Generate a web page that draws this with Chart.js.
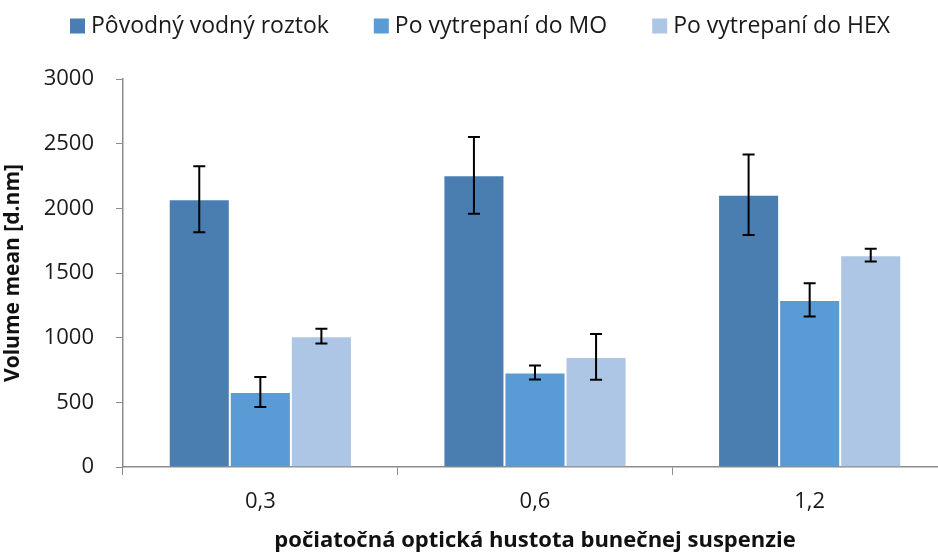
<!DOCTYPE html>
<html>
<head>
<meta charset="utf-8">
<script src="https://cdn.jsdelivr.net/npm/chart.js@4.4.1/dist/chart.umd.min.js"></script>
<style>
  html, body { margin: 0; padding: 0; background: #fff; overflow: hidden; }
  #wrap { width: 950px; height: 554px; position: relative; }
</style>
</head>
<body>
<div id="wrap"><canvas id="c"></canvas></div>
<script>
const categories = ['0,3', '0,6', '1,2'];
const seriesNames = ['Pôvodný vodný roztok', 'Po vytrepaní do MO', 'Po vytrepaní do HEX'];
const original = [2070, 2255, 2105];
const originalErr = [255, 297, 311];
const afterMO = [580, 730, 1292];
const afterMOErr = [116, 54, 129];
const afterHEX = [1011, 851, 1638];
const afterHEXErr = [57, 177, 50];
const yTicks = [0, 500, 1000, 1500, 2000, 2500, 3000];
const colors = ['#4A7EB0', '#5B9BD5', '#ADC6E5'];
const FONT = '"Open Sans"';
const FS = 22;

const errors = [originalErr, afterMOErr, afterHEXErr];

const errorBarPlugin = {
  id: 'errorBars',
  afterDatasetsDraw(chart) {
    const ctx = chart.ctx;
    const y = chart.scales.y;
    ctx.save();
    ctx.strokeStyle = '#000';
    ctx.lineWidth = 2;
    chart.data.datasets.forEach((ds, di) => {
      const meta = chart.getDatasetMeta(di);
      meta.data.forEach((bar, i) => {
        const v = ds.data[i], e = errors[di][i];
        const yt = y.getPixelForValue(v + e), yb = y.getPixelForValue(v - e);
        const x = bar.x, cap = 6;
        ctx.beginPath();
        ctx.moveTo(x, yt); ctx.lineTo(x, yb);
        ctx.moveTo(x - cap, yt); ctx.lineTo(x + cap, yt);
        ctx.moveTo(x - cap, yb); ctx.lineTo(x + cap, yb);
        ctx.stroke();
      });
    });
    ctx.restore();
  }
};

const legendPlugin = {
  id: 'customLegend',
  afterDraw(chart) {
    const ctx = chart.ctx;
    ctx.save();
    ctx.font = '23px ' + FONT;
    ctx.textBaseline = 'middle';
    const box = 15, gapText = 6, gapItem = 45;
    const widths = seriesNames.map(n => ctx.measureText(n).width);
    const total = widths.reduce((a, w) => a + box + gapText + w, 0) + gapItem * (seriesNames.length - 1);
    let x = 480 - total / 2;
    const yc = 26;
    seriesNames.forEach((n, i) => {
      ctx.fillStyle = colors[i];
      ctx.fillRect(x, yc - box / 2, box, box);
      ctx.fillStyle = '#1a1a1a';
      ctx.fillText(n, x + box + gapText, yc);
      x += box + gapText + widths[i] + gapItem;
    });
    ctx.restore();
  }
};

const datasets = [original, afterMO, afterHEX].map((d, i) => ({
  label: seriesNames[i],
  data: d,
  backgroundColor: colors[i],
  borderColor: 'rgba(255,255,255,0.35)',
  borderWidth: 1,
  categoryPercentage: 0.667,
  barPercentage: 1.0
}));

new Chart(document.getElementById('c'), {
  type: 'bar',
  data: { labels: categories, datasets },
  options: {
    responsive: true,
    maintainAspectRatio: false,
    animation: false,
    layout: { padding: { top: 79, right: 3, left: 0, bottom: 0 } },
    plugins: { legend: { display: false }, tooltip: { enabled: false } },
    scales: {
      x: {
        grid: { display: true, drawOnChartArea: false, offset: true, tickLength: 8, color: '#8c8c8c', lineWidth: 1 },
        border: { display: true, color: '#8c8c8c', width: 1.5 },
        ticks: { color: '#1a1a1a', font: { family: FONT, size: FS }, padding: 14 },
        title: { display: true, text: 'počiatočná optická hustota bunečnej suspenzie', color: '#111', font: { family: FONT, size: 22, weight: 'bold' }, padding: { top: 0, bottom: 0 } },
        afterFit(s) { s.height = 87; }
      },
      y: {
        min: 0, max: 3000,
        afterBuildTicks(s) { s.ticks = yTicks.map(v => ({ value: v })); },
        grid: { display: true, drawOnChartArea: false, tickLength: 7, color: '#8c8c8c', lineWidth: 1 },
        border: { display: true, color: '#8c8c8c', width: 1.5 },
        ticks: { color: '#1a1a1a', font: { family: FONT, size: FS }, padding: 22, callback: v => String(v) },
        title: { display: true, text: 'Volume mean [d.nm]', color: '#111', font: { family: FONT, size: 21, weight: 'bold' }, padding: { top: 0, bottom: 0 } },
        afterFit(s) { s.width = 123; }
      }
    }
  },
  plugins: [errorBarPlugin, legendPlugin]
});
</script>
</body>
</html>
